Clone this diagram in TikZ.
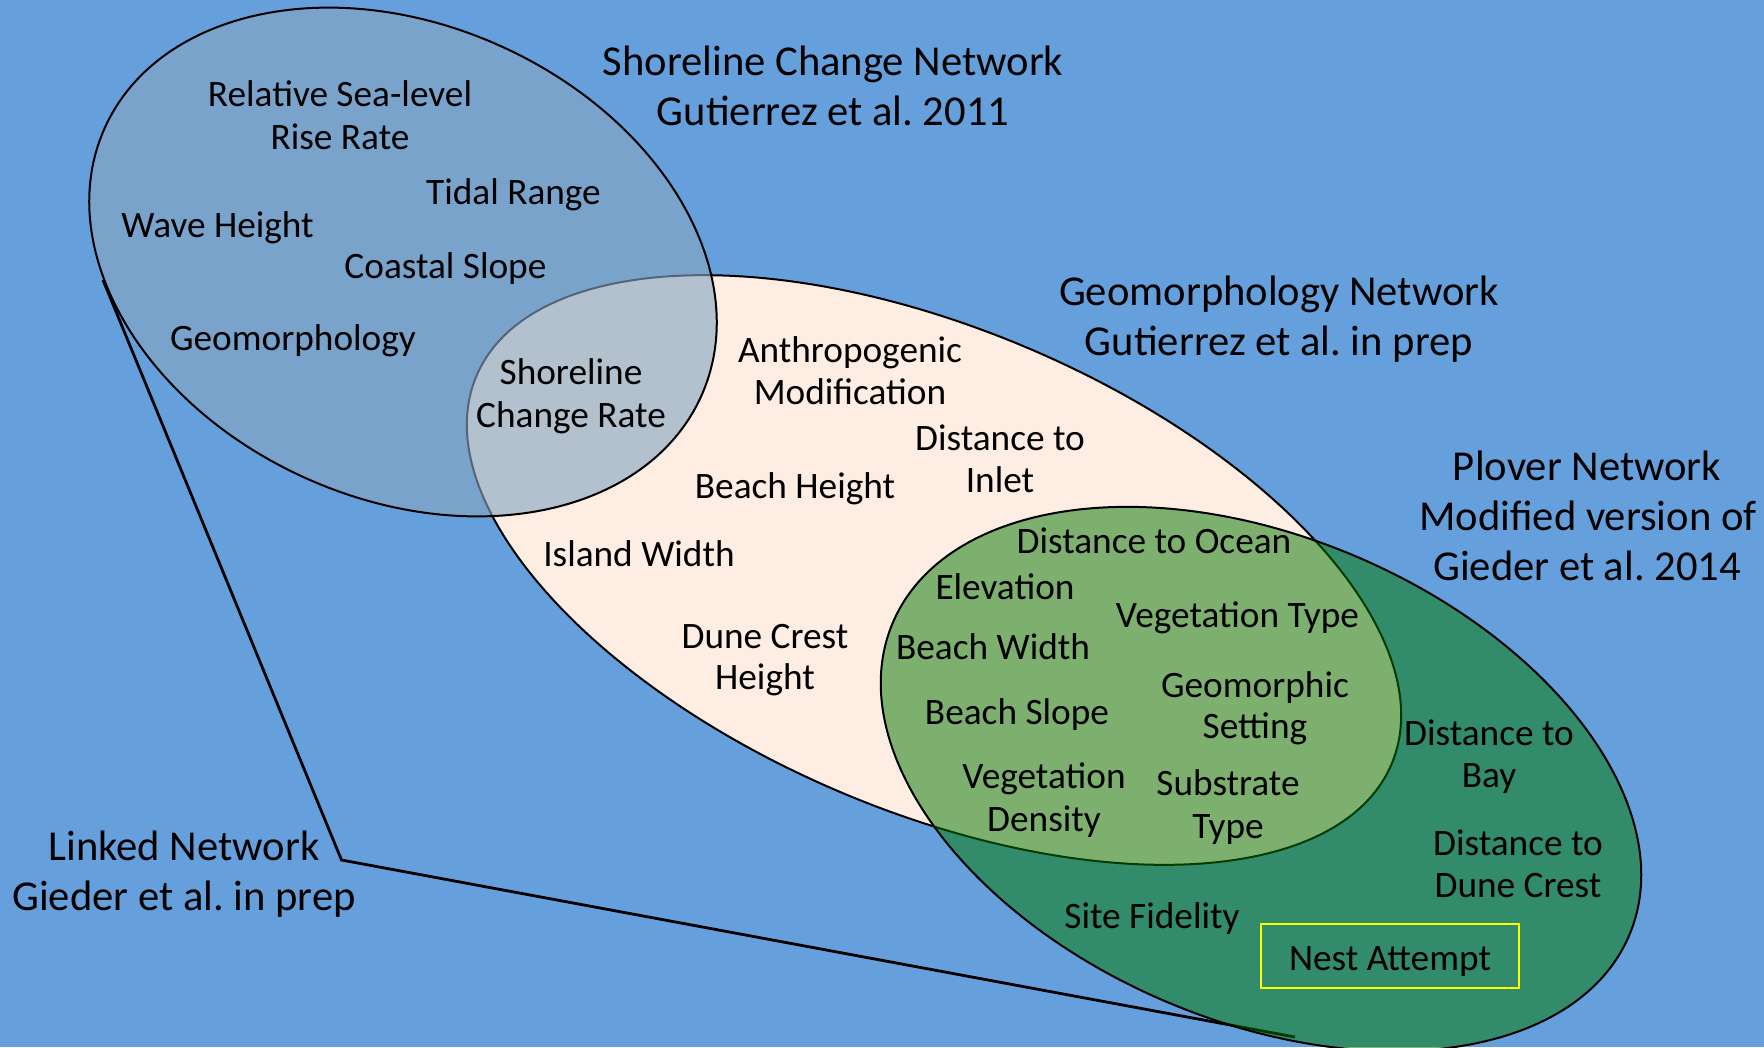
\documentclass[tikz,border=0pt]{standalone}
\usepackage{fontspec}
\setmainfont{Carlito}
\frenchspacing
\definecolor{bgblue}{RGB}{101,160,220}
\definecolor{peach}{RGB}{253,237,226}
\definecolor{shoregrey}{RGB}{135,165,194}
\definecolor{ploverg}{RGB}{2,119,0}
\definecolor{nestyellow}{RGB}{255,255,0}
\tikzset{
  lbl/.style={font=\fontsize{37.3}{44}\selectfont, inner sep=0pt, anchor=base, text=black},
  ttl/.style={font=\fontsize{42.6}{50}\selectfont, inner sep=0pt, anchor=base, text=black},
  netline/.style={draw=black, line width=2pt},
  linkline/.style={draw=black, line width=2.8pt, line join=miter},
}
\begin{document}
\begin{tikzpicture}[x=1pt,y=-1pt]
\useasboundingbox (0,0) rectangle (1764,1047);
\fill[bgblue] (0,0) rectangle (1764,1047);

% linked network outline
\coordinate (lkA) at (103,280);
\coordinate (lkB) at (341.5,860);
\coordinate (lkC) at (1295,1037);
\draw[linkline] (lkA) -- (lkB) -- (lkC);

% geomorphology network (peach)
\draw[netline, fill=peach, rotate around={-23:(934,570)}] (934,570) ellipse [x radius=497pt, y radius=241pt];
% shoreline change network
\draw[netline, fill=shoregrey, fill opacity=0.62, rotate around={-24.2:(403,262)}] (403,262) ellipse [x radius=327pt, y radius=237pt];
% plover network
\draw[netline, fill=ploverg, fill opacity=0.51, rotate around={-23:(1261,779)}] (1261,779) ellipse [x radius=400pt, y radius=242pt];

% titles
\node[ttl] (t1a) at (833,75) {Shoreline Change Network};
\node[ttl] (t1b) at (833,125) {Gutierrez et al. 2011};
\node[ttl] (t2a) at (1279,305) {Geomorphology Network};
\node[ttl] (t2b) at (1279,355) {Gutierrez et al. in prep};
\node[ttl] (t3a) at (1587,480) {Plover Network};
\node[ttl] (t3b) at (1588,530) {Modified version of};
\node[ttl] (t3c) at (1587,580) {Gieder et al. 2014};
\node[ttl] (t4a) at (184,860) {Linked Network};
\node[ttl] (t4b) at (184,910) {Gieder et al. in prep};

% shoreline variables
\node[lbl] (rslra) at (340,106) {Relative Sea-level};
\node[lbl] (rslrb) at (340,149) {Rise Rate};
\node[lbl] (tidal) at (513.5,204) {Tidal Range};
\node[lbl] (wave) at (217.5,237) {Wave Height};
\node[lbl] (cslope) at (445.5,278) {Coastal Slope};
\node[lbl] (geomo) at (293,350) {Geomorphology};
\node[lbl] (scra) at (571,384) {Shoreline};
\node[lbl] (scrb) at (571,427) {Change Rate};

% geomorphology variables
\node[lbl] (anta) at (850,362) {Anthropogenic};
\node[lbl] (antb) at (850,404) {Modification};
\node[lbl] (dina) at (1000,450) {Distance to};
\node[lbl] (dinb) at (1000,492) {Inlet};
\node[lbl] (bheight) at (795,498) {Beach Height};
\node[lbl] (iwidth) at (639,566) {Island Width};
\node[lbl] (dcha) at (765,648) {Dune Crest};
\node[lbl] (dchb) at (765,689.5) {Height};

% shared variables
\node[lbl] (docean) at (1154,553) {Distance to Ocean};
\node[lbl] (elev) at (1005,599) {Elevation};
\node[lbl] (vtype) at (1237.5,627) {Vegetation Type};
\node[lbl] (bwidth) at (993,659) {Beach Width};
\node[lbl] (gsa) at (1255,697) {Geomorphic};
\node[lbl] (gsb) at (1255,738.5) {Setting};
\node[lbl] (bslope) at (1017,724) {Beach Slope};
\node[lbl] (vda) at (1044,788) {Vegetation};
\node[lbl] (vdb) at (1044,831.5) {Density};
\node[lbl] (sta) at (1228,795) {Substrate};
\node[lbl] (stb) at (1228,838) {Type};

% plover variables
\node[lbl] (dbaya) at (1489,745) {Distance to};
\node[lbl] (dbayb) at (1489,787) {Bay};
\node[lbl] (ddca) at (1518,855) {Distance to};
\node[lbl] (ddcb) at (1518,897) {Dune Crest};
\node[lbl] (sfid) at (1152,928) {Site Fidelity};
\node[draw=nestyellow, line width=2pt, minimum width=258pt, minimum height=64pt, inner sep=0pt] (nestbox) at (1390,956) {};
\node[lbl] (nest) at (1390,970) {Nest Attempt};
\end{tikzpicture}
\end{document}
